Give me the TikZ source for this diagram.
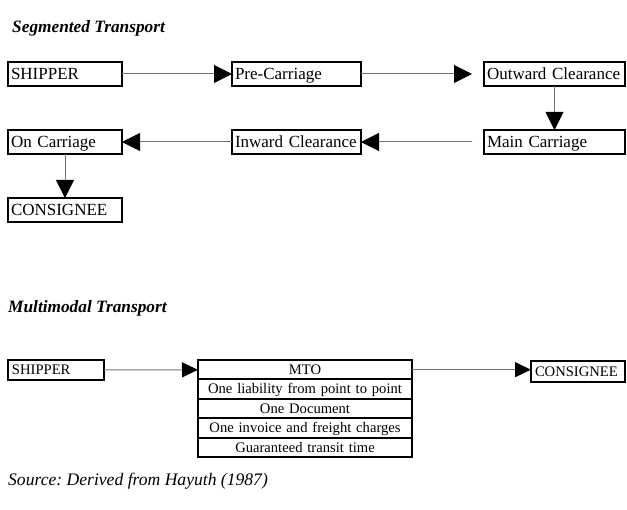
\documentclass[tikz,border=0pt]{standalone}
\usepackage{fontspec}
\setmainfont{Liberation Serif}
\usepackage{xcolor}
\usepackage{tikz}
\usetikzlibrary{arrows.meta,positioning,calc}
\frenchspacing

\tikzset{
  bigbox/.style={draw, line width=2.3pt, outer sep=0pt, inner xsep=3pt, inner ysep=0pt,
    minimum height=24pt, anchor=north west, align=left, text width=#1,
    text height=11.3pt, text depth=0pt, font=\fontsize{17}{19}\selectfont},
  smallbox/.style={draw, line width=1.9pt, outer sep=0pt, inner xsep=4pt, inner ysep=0pt,
    minimum height=20pt, anchor=north west, align=left, text width=#1,
    text height=9.6pt, text depth=0pt, font=\fontsize{14.6}{16}\selectfont},
  mtorow/.style={smallbox=208pt, inner xsep=3pt, align=center, minimum height=19.4pt},
  link/.style={draw=black!55, line width=1pt, -{Triangle[length=18pt,width=18pt,black]}},
  smalllink/.style={draw=black!55, line width=1pt, -{Triangle[length=16pt,width=15pt,black]}},
  heading/.style={anchor=base west, inner sep=0pt, font=\fontsize{17.3}{20}\selectfont\bfseries\itshape},
}

\begin{document}
\begin{tikzpicture}[x=1pt, y=-1pt]
  \useasboundingbox (0,0) rectangle (627,510);

  % Segmented transport
  \node[heading] (seghead) at (12,33) {Segmented Transport};

  \node[bigbox=108pt] (ship1) at (8,62) {SHIPPER};
  \node[bigbox=123pt] (pre) at (232,62) {Pre-Carriage};
  \node[bigbox=135pt] (out) at (484,62) {Outward Clearance};
  \node[bigbox=135pt] (main) at (484,130) {Main Carriage};
  \node[bigbox=123pt] (inw) at (232,130) {Inward Clearance};
  \node[bigbox=108pt] (on) at (8,130) {On Carriage};
  \node[bigbox=108pt] (cons1) at (8,198) {CONSIGNEE};

  \draw[link] (ship1) -- (pre);
  \draw[link, shorten >=12pt] (pre) -- (out);
  \draw[link] (out) -- (main);
  \draw[link, shorten <=12pt] (main) -- (inw);
  \draw[link] (inw) -- (on);
  \draw[link] (on) -- (cons1);

  % Multimodal transport
  \node[heading] (multhead) at (8,313) {Multimodal Transport};

  \node[smallbox=88pt] (ship2) at (8,360) {SHIPPER};
  \node[mtorow] (mto) at (198,360) {MTO};
  \node[mtorow, below=0pt of mto] (liab) {One liability from point to point};
  \node[mtorow, below=0pt of liab] (doc) {One Document};
  \node[mtorow, below=0pt of doc] (inv) {One invoice and freight charges};
  \node[mtorow, below=0pt of inv] (time) {Guaranteed transit time};
  \node[smallbox=86pt, minimum height=21pt] (cons2) at (531,361) {CONSIGNEE};

  \draw[smalllink] (ship2) -- (mto);
  \draw[smalllink] (mto.east) -- (cons2.west |- mto.east);

  \node[anchor=base west, inner sep=0pt, font=\fontsize{17.6}{20}\selectfont\itshape] (src) at (8,486)
    {Source: Derived from Hayuth (1987)};
\end{tikzpicture}
\end{document}
